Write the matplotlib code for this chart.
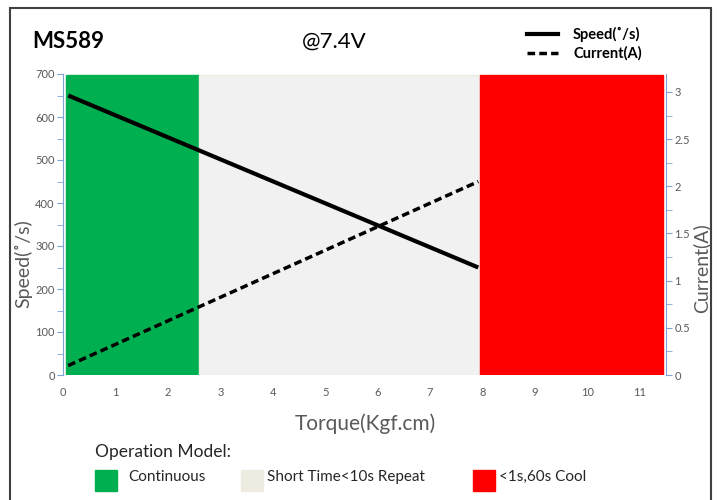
import matplotlib.pyplot as plt
from matplotlib.patches import Rectangle
from matplotlib.lines import Line2D

plt.rcParams['font.family'] = ['Lato', 'DejaVu Sans']

# operating zones (torque ranges)
zone_start = [0.05, 2.6, 7.95]
zone_end = [2.6, 7.95, 11.45]
zone_names = ["Continuous", "Short Time<10s Repeat", "<1s,60s Cool"]
zone_colors = ["#00B050", "#F1F1F1", "#FF0000"]
zone_edges = ["#00B050", "#EEECE1", "#FF0000"]
zone_top = 697

# performance curves
torque = [0.1, 7.92]
speed = [650, 250]
current = [0.1, 2.05]

gray = "#595959"
axis_blue = "#7FA3D8"

fig = plt.figure(figsize=(7.17, 5.0), dpi=100)
ax = fig.add_axes([63 / 717, 1 - 375 / 500, (666 - 63) / 717, (375 - 74) / 500])
ax2 = ax.twinx()

widths = [e - s for s, e in zip(zone_start, zone_end)]
ax.bar(zone_start, [zone_top] * 3, width=widths, align='edge',
       color=zone_colors, edgecolor=zone_edges, linewidth=1, zorder=1)
ax.plot(torque, speed, color='black', lw=3, solid_capstyle='butt', zorder=3)
ax2.plot(torque, current, color='black', lw=2.5, ls=(0, (2.2, 1.2)), zorder=3)

ax.set_xlim(0, 11.5)
ax.set_ylim(0, 700)
ax2.set_ylim(0, 3.19)
ax.set_xticks(range(0, 12))
ax.set_yticks(range(0, 701, 100))
ax.set_yticks(range(50, 700, 100), minor=True)
ax2.set_yticks([0, 0.5, 1, 1.5, 2, 2.5, 3])
ax2.set_yticklabels(["0", "0.5", "1", "1.5", "2", "2.5", "3"])
ax2.set_yticks([0.25, 0.75, 1.25, 1.75, 2.25, 2.75], minor=True)

for a in (ax, ax2):
    for s in ('top', 'bottom'):
        a.spines[s].set_visible(False)
ax.spines['right'].set_visible(False)
ax2.spines['left'].set_visible(False)
ax.spines['left'].set_color(axis_blue)
ax2.spines['right'].set_color(axis_blue)

ax.tick_params(axis='x', length=0, labelsize=8, labelcolor=gray, pad=9)
ax.tick_params(axis='y', which='both', length=4, color=axis_blue, labelsize=8, labelcolor=gray, pad=2)
ax2.tick_params(axis='y', which='both', length=4, color=axis_blue, labelsize=8, labelcolor=gray, pad=2)

fig.text(23 / 717, 1 - 264 / 500, "Speed(˚/s)", rotation=90, ha='center', va='center',
         fontsize=14, color=gray)
fig.text(701 / 717, 1 - 268 / 500, "Current(A)", rotation=90, ha='center', va='center',
         fontsize=14, color=gray)
fig.text(365 / 717, 1 - 424 / 500, "Torque(Kgf.cm)", ha='center', va='center',
         fontsize=15, color=gray)

fig.text(32 / 717, 1 - 42 / 500, "MS589", ha='left', va='center', fontsize=16, fontweight='bold')
fig.text(334 / 717, 1 - 42 / 500, "@7.4V", ha='center', va='center', fontsize=16)

# line legend, top right
fig.add_artist(Line2D([527 / 717, 558 / 717], [1 - 34 / 500] * 2, color='black', lw=3))
fig.add_artist(Line2D([527 / 717, 558 / 717], [1 - 53 / 500] * 2, color='black', lw=2.5,
                      ls=(0, (2.2, 1.2))))
fig.text(573 / 717, 1 - 34 / 500, "Speed(˚/s)", ha='left', va='center', fontsize=10.5, fontweight='bold')
fig.text(573 / 717, 1 - 53 / 500, "Current(A)", ha='left', va='center', fontsize=10.5, fontweight='bold')

# zone legend, bottom
fig.text(95 / 717, 1 - 452 / 500, "Operation Model:", ha='left', va='center', fontsize=12.5, color='#262626')
patch_x = [95, 241, 473]
text_x = [128, 267, 499]
legend_colors = ["#00B050", "#EEECE1", "#FF0000"]
for px, tx, name, c in zip(patch_x, text_x, zone_names, legend_colors):
    fig.add_artist(Rectangle((px / 717, 1 - 491 / 500), 22 / 717, 21 / 500, color=c,
                             transform=fig.transFigure))
    fig.text(tx / 717, 1 - 477 / 500, name, ha='left', va='center', fontsize=11, color='#262626')

# outer frame
fig.add_artist(Rectangle((10 / 717, -0.01), 701 / 717, 1 - 8 / 500 + 0.01, fill=False,
                         edgecolor='#404040', lw=1.5, transform=fig.transFigure))

fig.savefig("out.png", dpi=100)
